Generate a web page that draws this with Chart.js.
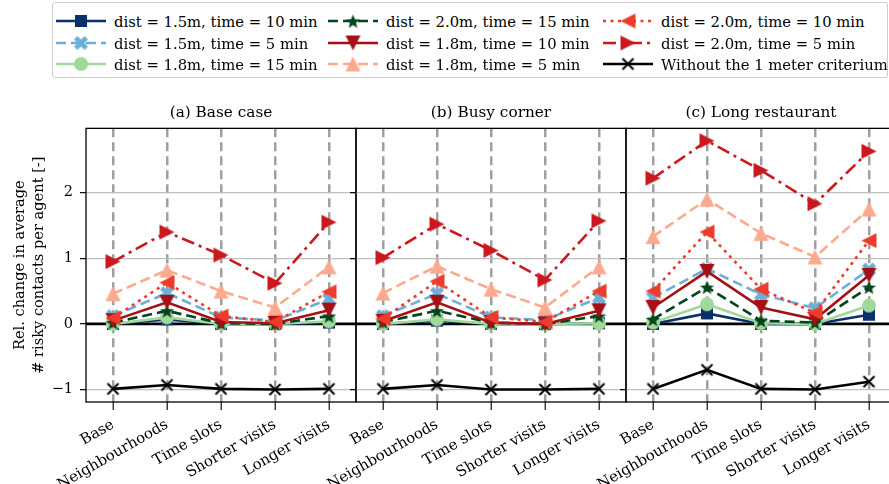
<!DOCTYPE html>
<html>
<head>
<meta charset="utf-8">
<title>Relative change in risky contacts</title>
<script src="https://cdn.jsdelivr.net/npm/chart.js"></script>
<style>
  html, body { margin: 0; padding: 0; background: #fff; }
  body {
    width: 889px;
    height: 484px;
    overflow: hidden;
    position: relative;
    font-family: "DejaVu Serif", serif;
  }
  canvas.panel { position: absolute; top: 94px; }
  #legend {
    position: absolute;
    left: 52px; top: 2px;
    width: 836px; height: 76px;
    border: 1px solid #cfcfcf;
    border-radius: 3px;
    box-sizing: border-box;
  }
  .item {
    position: absolute;
    height: 20px;
    display: flex;
    align-items: center;
    font-size: 14.8px;
    color: #000;
    white-space: nowrap;
  }
  .item canvas { margin-right: 8px; }
</style>
</head>
<body>
<div id="legend"></div>
<canvas class="panel" id="panelA"></canvas>
<canvas class="panel" id="panelB"></canvas>
<canvas class="panel" id="panelC"></canvas>

<script>
const categories = ['Base', 'Neighbourhoods', 'Time slots', 'Shorter visits', 'Longer visits'];
const panelTitles = ['(a) Base case', '(b) Busy corner', '(c) Long restaurant'];
const seriesLabels = [
  'dist = 1.5m, time = 10 min',
  'dist = 1.5m, time = 5 min',
  'dist = 1.8m, time = 15 min',
  'dist = 2.0m, time = 15 min',
  'dist = 1.8m, time = 10 min',
  'dist = 1.8m, time = 5 min',
  'dist = 2.0m, time = 10 min',
  'dist = 2.0m, time = 5 min',
  'Without the 1 meter criterium'
];
const yTicks = [-1, 0, 1, 2];

// one row per series, same order as seriesLabels
const baseCase = [
  [0.00, 0.07, 0.00, 0.00, 0.02],
  [0.12, 0.47, 0.10, 0.05, 0.38],
  [0.00, 0.10, 0.00, 0.00, 0.04],
  [0.02, 0.20, 0.01, 0.00, 0.12],
  [0.05, 0.33, 0.03, 0.01, 0.21],
  [0.46, 0.82, 0.50, 0.25, 0.87],
  [0.09, 0.63, 0.12, 0.03, 0.49],
  [0.95, 1.40, 1.05, 0.62, 1.55],
  [-0.99, -0.93, -0.99, -1.00, -0.99]
];
const busyCorner = [
  [0.00, 0.05, 0.00, 0.00, 0.01],
  [0.12, 0.46, 0.10, 0.06, 0.40],
  [0.00, 0.07, 0.00, 0.00, 0.01],
  [0.03, 0.20, 0.02, 0.00, 0.12],
  [0.04, 0.33, 0.02, 0.00, 0.20],
  [0.47, 0.88, 0.53, 0.25, 0.87],
  [0.08, 0.65, 0.10, 0.03, 0.50],
  [1.01, 1.52, 1.12, 0.67, 1.57],
  [-0.99, -0.93, -1.00, -1.00, -0.99]
];
const longRestaurant = [
  [0.00, 0.16, 0.00, 0.00, 0.14],
  [0.40, 0.84, 0.45, 0.24, 0.83],
  [0.02, 0.30, 0.01, 0.00, 0.28],
  [0.07, 0.56, 0.05, 0.02, 0.56],
  [0.25, 0.80, 0.25, 0.07, 0.74],
  [1.33, 1.90, 1.38, 1.02, 1.75],
  [0.50, 1.40, 0.53, 0.17, 1.27],
  [2.22, 2.79, 2.34, 1.83, 2.63],
  [-0.99, -0.70, -0.99, -1.00, -0.88]
];
const panelData = [baseCase, busyCorner, longRestaurant];

const FONT = "'DejaVu Serif', serif";

const seriesStyle = [
  { color: '#08306b', dash: [],             marker: 'square', size: 12 },
  { color: '#6baed6', dash: [10, 5],        marker: 'X',      size: 12.5 },
  { color: '#a1d99b', dash: [],             marker: 'circle', size: 14 },
  { color: '#00441b', dash: [10, 5],        marker: 'star',   size: 15 },
  { color: '#a50f15', dash: [],             marker: 'down',   size: 15 },
  { color: '#fcaa8e', dash: [10, 5],        marker: 'up',     size: 15 },
  { color: '#ef3b2c', dash: [3, 4.5],       marker: 'left',   size: 15 },
  { color: '#cb181d', dash: [13, 5, 3, 5],  marker: 'right',  size: 15 },
  { color: '#000000', dash: [],             marker: 'x',      size: 11 }
];

function makeMarker(shape, color, size) {
  const s = Math.ceil(size + 4);
  const c = document.createElement('canvas');
  c.width = s; c.height = s;
  const g = c.getContext('2d');
  const m = s / 2, r = size / 2;
  g.fillStyle = color;
  g.strokeStyle = color;
  g.beginPath();
  if (shape === 'square') {
    g.rect(m - r, m - r, size, size);
  } else if (shape === 'circle') {
    g.arc(m, m, r, 0, Math.PI * 2);
  } else if (shape === 'up') {
    g.moveTo(m, m - r); g.lineTo(m + r, m + r); g.lineTo(m - r, m + r);
  } else if (shape === 'down') {
    g.moveTo(m, m + r); g.lineTo(m + r, m - r); g.lineTo(m - r, m - r);
  } else if (shape === 'left') {
    g.moveTo(m - r, m); g.lineTo(m + r, m - r); g.lineTo(m + r, m + r);
  } else if (shape === 'right') {
    g.moveTo(m + r, m); g.lineTo(m - r, m - r); g.lineTo(m - r, m + r);
  } else if (shape === 'star') {
    for (let i = 0; i < 10; i++) {
      const rr = i % 2 ? r * 0.42 : r;
      const a = -Math.PI / 2 + i * Math.PI / 5;
      const px = m + rr * Math.cos(a), py = m + 0.06 * size + rr * Math.sin(a);
      i ? g.lineTo(px, py) : g.moveTo(px, py);
    }
  } else if (shape === 'X') {
    g.translate(m, m);
    g.rotate(Math.PI / 4);
    const L = size * 0.6, w = size * 0.19;
    g.rect(-L, -w, 2 * L, 2 * w);
    g.rect(-w, -L, 2 * w, 2 * L);
  } else if (shape === 'x') {
    g.lineWidth = 2;
    g.moveTo(m - r, m - r); g.lineTo(m + r, m + r);
    g.moveTo(m + r, m - r); g.lineTo(m - r, m + r);
    g.stroke();
    return c;
  }
  g.closePath();
  g.fill();
  return c;
}

const markers = seriesStyle.map(s => makeMarker(s.marker, s.color, s.size));

// legend (3 columns, column-major like matplotlib)
const legendCols = [56, 328, 603];
const legendRows = [11, 33, 54];
seriesLabels.forEach((label, i) => {
  const st = seriesStyle[i];
  const item = document.createElement('div');
  item.className = 'item';
  item.style.left = legendCols[Math.floor(i / 3)] + 'px';
  item.style.top = legendRows[i % 3] + 'px';
  const h = document.createElement('canvas');
  h.width = 50; h.height = 20;
  const g = h.getContext('2d');
  g.strokeStyle = st.color;
  g.lineWidth = 2.6;
  g.setLineDash(st.dash);
  g.beginPath(); g.moveTo(0, 10); g.lineTo(50, 10); g.stroke();
  const mk = markers[i];
  g.drawImage(mk, 25 - mk.width / 2, 10 - mk.height / 2);
  item.appendChild(h);
  item.appendChild(document.createTextNode(label));
  document.body.appendChild(item);
});

// shared y range, 5% margin like matplotlib autoscale
const allVals = panelData.flat(2);
const dMin = Math.min(...allVals), dMax = Math.max(...allVals);
const Y_MIN = dMin - 0.05 * (dMax - dMin);
const Y_MAX = dMax + 0.05 * (dMax - dMin);

// frame around each axes + thick zero line
const frame = {
  id: 'frame',
  beforeDatasetsDraw(chart) {
    const { ctx, chartArea: a } = chart;
    const y0 = chart.scales.y.getPixelForValue(0);
    ctx.save();
    ctx.strokeStyle = '#000';
    ctx.lineWidth = 2.8;
    ctx.beginPath(); ctx.moveTo(a.left, y0); ctx.lineTo(a.right, y0); ctx.stroke();
    ctx.lineWidth = 1.3;
    ctx.strokeRect(a.left, a.top, a.right - a.left, a.bottom - a.top);
    ctx.restore();
  }
};

const panelBox = [
  { id: 'panelA', left: 0,   width: 360, yWidth: 86 },
  { id: 'panelB', left: 316, width: 314, yWidth: 40 },
  { id: 'panelC', left: 586, width: 314, yWidth: 40 }
];

panelBox.forEach((box, p) => {
  const cv = document.getElementById(box.id);
  cv.width = box.width; cv.height = 390;
  cv.style.left = box.left + 'px';

  const datasets = panelData[p].map((vals, i) => ({
    label: seriesLabels[i],
    data: vals,
    borderColor: seriesStyle[i].color,
    backgroundColor: seriesStyle[i].color,
    borderWidth: 2.6,
    borderDash: seriesStyle[i].dash,
    pointStyle: markers[i],
    pointRadius: 6,
    pointHoverRadius: 6,
    tension: 0,
    clip: false,
    order: seriesLabels.length - 1 - i
  }));

  new Chart(cv, {
    type: 'line',
    data: { labels: categories, datasets },
    options: {
      responsive: false,
      animation: false,
      devicePixelRatio: 1,
      events: [],
      layout: { autoPadding: false, padding: { left: 0, right: 4, top: 0, bottom: 0 } },
      plugins: {
        legend: { display: false },
        tooltip: { enabled: false },
        title: {
          display: true,
          fullSize: false,
          text: panelTitles[p],
          color: '#000',
          font: { family: FONT, size: 15.3, weight: 'normal' },
          padding: { top: 10, bottom: 6 }
        }
      },
      scales: {
        x: {
          offset: true,
          grid: {
            offset: false, color: '#a0a0a0', lineWidth: 2.5,
            tickLength: 8, tickColor: '#222', tickWidth: 1.3, tickBorderDash: []
          },
          border: { display: false, dash: [9, 5] },
          ticks: {
            autoSkip: false, minRotation: 30, maxRotation: 30, padding: 6,
            color: '#000', font: { family: FONT, size: 14.8 }
          },
          afterFit(s) { s.height = 82; }
        },
        y: {
          min: Y_MIN,
          max: Y_MAX,
          afterBuildTicks(s) { s.ticks = yTicks.map(v => ({ value: v })); },
          grid: { color: '#c0c0c0', lineWidth: 1.3, tickLength: 6, tickColor: '#000', tickWidth: 1.2 },
          border: { display: false },
          ticks: {
            padding: 7,
            color: '#000',
            font: { family: FONT, size: 14.5 },
            callback: v => p === 0 ? (v < 0 ? '\u2212' + Math.abs(v) : String(v)) : ''
          },
          title: {
            display: p === 0,
            text: ['Rel. change in average', '# risky contacts per agent [-]'],
            color: '#000',
            font: { family: FONT, size: 14.6, lineHeight: 1.3 },
            padding: { top: 10.5, bottom: 0 }
          },
          afterFit(s) { s.width = box.yWidth; }
        }
      }
    },
    plugins: [frame]
  });
});
</script>
</body>
</html>
